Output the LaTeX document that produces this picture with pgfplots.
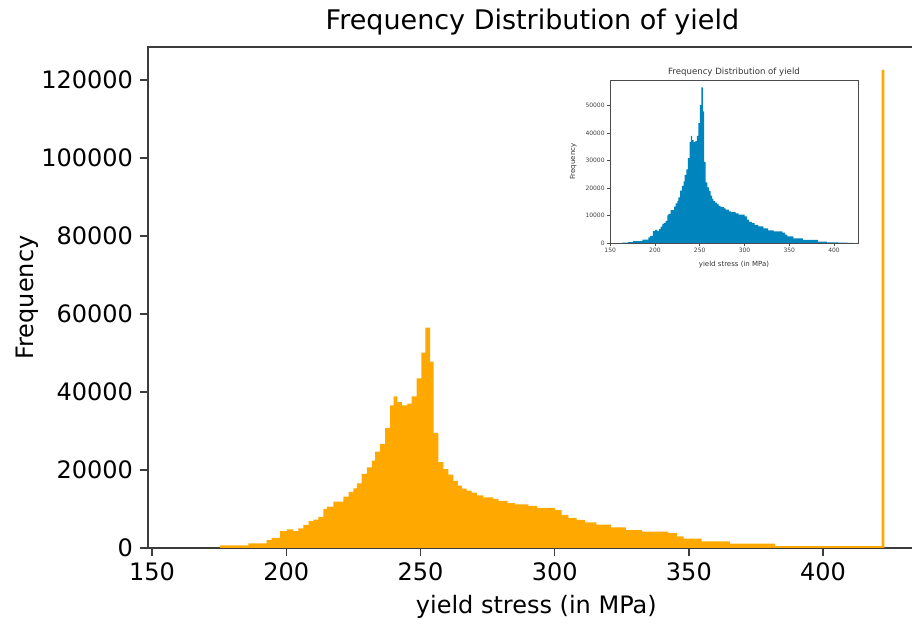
\documentclass[border=0pt]{standalone}
\usepackage{fontspec}
\setmainfont{DejaVu Sans}
\usepackage{pgfplots}
\usepackage{pgfplotstable}
\pgfplotsset{compat=1.18}
\definecolor{historange}{RGB}{255,168,0}
\definecolor{histblue}{RGB}{0,132,189}
\definecolor{spine}{RGB}{60,60,60}

\pgfplotstableread{
x y
175.3 700
185.9 1200
192.7 2000
194.6 2600
197.7 4300
200.2 4800
202.7 4300
204.5 5000
206.4 5900
208.3 6900
210.1 7300
212.0 8000
213.8 10000
215.1 10600
217.6 11900
221.3 13200
223.2 14400
225.0 15300
226.3 16600
228.1 19000
230.0 20700
231.9 22400
233.1 24700
235.0 26700
236.8 30800
238.7 36600
240.0 38900
241.4 37400
243.2 36600
245.1 37000
246.7 38900
248.6 43500
250.3 50100
251.8 56500
253.6 47800
254.9 29500
256.7 22000
258.5 20200
260.4 18800
262.3 17200
263.9 16000
265.4 15200
267.2 14700
269.1 14200
271.0 13500
273.4 13000
277.2 12600
279.0 12100
282.5 11500
285.2 11200
290.2 10800
293.5 10300
300.2 9700
302.6 8500
305.1 7700
308.2 7200
311.3 6600
315.5 6000
321.0 5300
326.5 4600
332.5 4200
342.4 3800
345.5 3000
348.0 2400
354.7 1700
365.3 1100
382.1 500
421.8 122600
422.8 0
}\maindata

\pgfplotstableread{
x y
163.0 150
170.0 300
175.3 700
185.9 1200
192.7 2000
194.6 2600
197.7 4300
200.2 4800
202.7 4300
204.5 5000
206.4 5900
208.3 6900
210.1 7300
212.0 8000
213.8 10000
215.1 10600
217.6 11900
221.3 13200
223.2 14400
225.0 15300
226.3 16600
228.1 19000
230.0 20700
231.9 22400
233.1 24700
235.0 26700
236.8 30800
238.7 36600
240.0 38900
241.4 37400
243.2 36600
245.1 37000
246.7 38900
248.6 43500
250.3 50100
251.8 56500
253.6 47800
254.9 29500
256.7 22000
258.5 20200
260.4 18800
262.3 17200
263.9 16000
265.4 15200
267.2 14700
269.1 14200
271.0 13500
273.4 13000
277.2 12600
279.0 12100
282.5 11500
285.2 11200
290.2 10800
293.5 10300
300.2 9700
302.6 8500
305.1 7700
308.2 7200
311.3 6600
315.5 6000
321.0 5300
326.5 4600
332.5 4200
342.4 3800
345.5 3000
348.0 2400
354.7 1700
365.3 1100
382.1 500
392.0 250
405.0 120
415.0 60
422.0 0
}\insetdata

\begin{document}
\begin{tikzpicture}
\begin{axis}[
  at={(74pt,39pt)}, anchor=south west,
  scale only axis, width=386pt, height=250.5pt,
  xmin=148.5, xmax=436.1, ymin=0, ymax=128460,
  axis line style={spine, line width=0.7pt},
  tick align=outside, xtick pos=left, ytick pos=left,
  major tick length=4pt, tick style={spine, line width=0.7pt},
  xtick={150,200,...,400}, ytick={0,20000,...,120000},
  scaled y ticks=false, scaled x ticks=false,
  /pgf/number format/assume math mode=true,
  yticklabel style={/pgf/number format/fixed, /pgf/number format/1000 sep={}},
  ticklabel style={font=\fontsize{12}{14}\selectfont, black},
  xlabel={yield stress (in MPa)},
  xlabel style={at={(axis description cs:0.503,-0.118)}, anchor=center, font=\fontsize{12}{14}\selectfont},
  ylabel={Frequency},
  ylabel style={at={(axis description cs:-0.157,0.5)}, anchor=center, font=\fontsize{12}{14}\selectfont},
  clip=false,
]
\addplot[const plot, fill=historange, draw=none] table {\maindata} \closedcycle;
\node[anchor=center, font=\fontsize{13.5}{16}\selectfont, inner sep=0pt] at (rel axis cs:0.498,1.05) {Frequency Distribution of yield};
\end{axis}

\begin{axis}[
  at={(305pt,191.5pt)}, anchor=south west,
  scale only axis, width=124pt, height=81.5pt,
  xmin=149.8, xmax=426.8, ymin=0, ymax=59200,
  axis background/.style={fill=white},
  axis line style={black!70, line width=0.35pt},
  tick align=outside, xtick pos=left, ytick pos=left,
  major tick length=1.5pt, tick style={black!70, line width=0.35pt},
  xtick={150,200,...,400}, ytick={0,10000,...,50000},
  scaled y ticks=false, scaled x ticks=false,
  /pgf/number format/assume math mode=true,
  yticklabel style={/pgf/number format/fixed, /pgf/number format/1000 sep={}},
  ticklabel style={font=\fontsize{3}{3.6}\selectfont, black!75, inner sep=1pt},
  xlabel={yield stress (in MPa)},
  xlabel style={at={(axis description cs:0.5,-0.13)}, anchor=center, font=\fontsize{3.5}{4}\selectfont, black!80},
  ylabel={Frequency},
  ylabel style={at={(axis description cs:-0.148,0.5)}, anchor=center, font=\fontsize{3.5}{4}\selectfont, black!80},
  clip=false,
]
\addplot[const plot, fill=histblue, draw=none] table {\insetdata} \closedcycle;
\node[anchor=center, font=\fontsize{4.3}{5}\selectfont, text=black!80, inner sep=0pt] at (rel axis cs:0.5,1.05) {Frequency Distribution of yield};
\end{axis}
\pgfresetboundingbox
\path (0pt,0pt) rectangle (456pt,313pt);
\end{tikzpicture}
\end{document}
